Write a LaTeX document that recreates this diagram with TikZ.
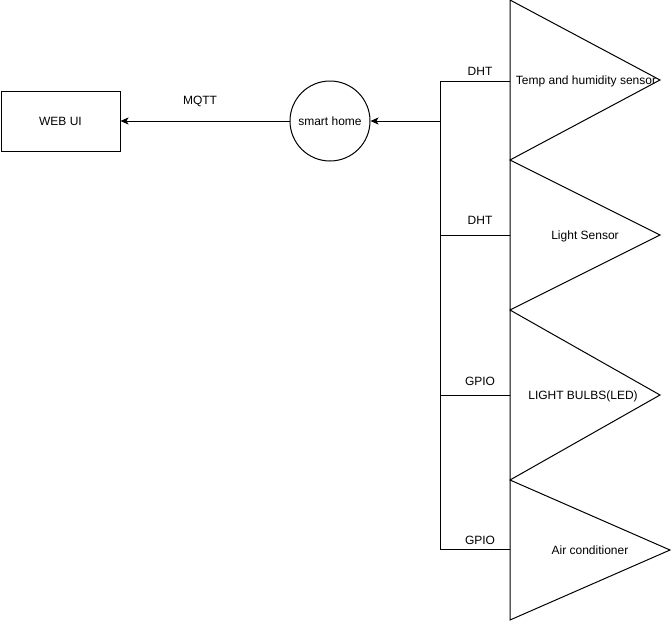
\documentclass[tikz,border=0pt]{standalone}
\usepackage{fontspec}
\setmainfont{Liberation Sans}
\usetikzlibrary{arrows.meta}
\begin{document}
\begin{tikzpicture}[x=1pt,y=-1pt,line width=1pt,
  font=\fontsize{12}{14}\selectfont,
  box/.style={draw,minimum width=119pt,minimum height=60pt,inner sep=0pt},
  hub/.style={draw,circle,minimum size=80pt,inner sep=0pt},
  lbl/.style={inner sep=0pt},
  conn/.style={draw},
  arr/.style={-{Stealth[length=8pt,width=7pt,inset=2pt]}}]
\useasboundingbox (0,0) rectangle (671,621);
% triangles
\draw (510,0) -- (660,80) -- (510,160) -- cycle;
\draw (510,160) -- (660,235) -- (510,310) -- cycle;
\draw (510,310) -- (660,395) -- (510,480) -- cycle;
\draw (510,480) -- (670,550) -- (510,620) -- cycle;
\node[lbl] (t1) at (586,81) {Temp and humidity sensor};
\node[lbl] (t2) at (585,236) {Light Sensor};
\node[lbl] (t3) at (583,396) {LIGHT BULBS(LED)};
\node[lbl] (t4) at (590,550) {Air conditioner};
\coordinate (e1) at (510,81);
\coordinate (e2) at (510,235);
\coordinate (e3) at (510,395);
\coordinate (e4) at (510,549);
\coordinate (b1) at (440,81);
\coordinate (b2) at (440,235);
\coordinate (b3) at (440,395);
\coordinate (b4) at (440,549);
% nodes
\node[box] (web) at (60.5,121) {WEB UI};
\node[hub] (sh) at (330,121) {smart home};
\coordinate (bus) at (b1 |- sh);
% connectors
\draw[conn] (b1) -- (b4);
\draw[conn] (b1) -- (e1);
\draw[conn] (b2) -- (e2);
\draw[conn] (b3) -- (e3);
\draw[conn] (b4) -- (e4);
\draw[conn,arr] (bus) -- (sh.east);
\draw[conn,arr] (sh.west) -- (web.east);
% labels
\node[lbl] (mqtt) at (200,101) {MQTT};
\node[lbl] (l1) at (480,71) {DHT};
\node[lbl] (l2) at (480,220) {DHT};
\node[lbl] (l3) at (480,381) {GPIO};
\node[lbl] (l4) at (480,540) {GPIO};
\end{tikzpicture}
\end{document}
